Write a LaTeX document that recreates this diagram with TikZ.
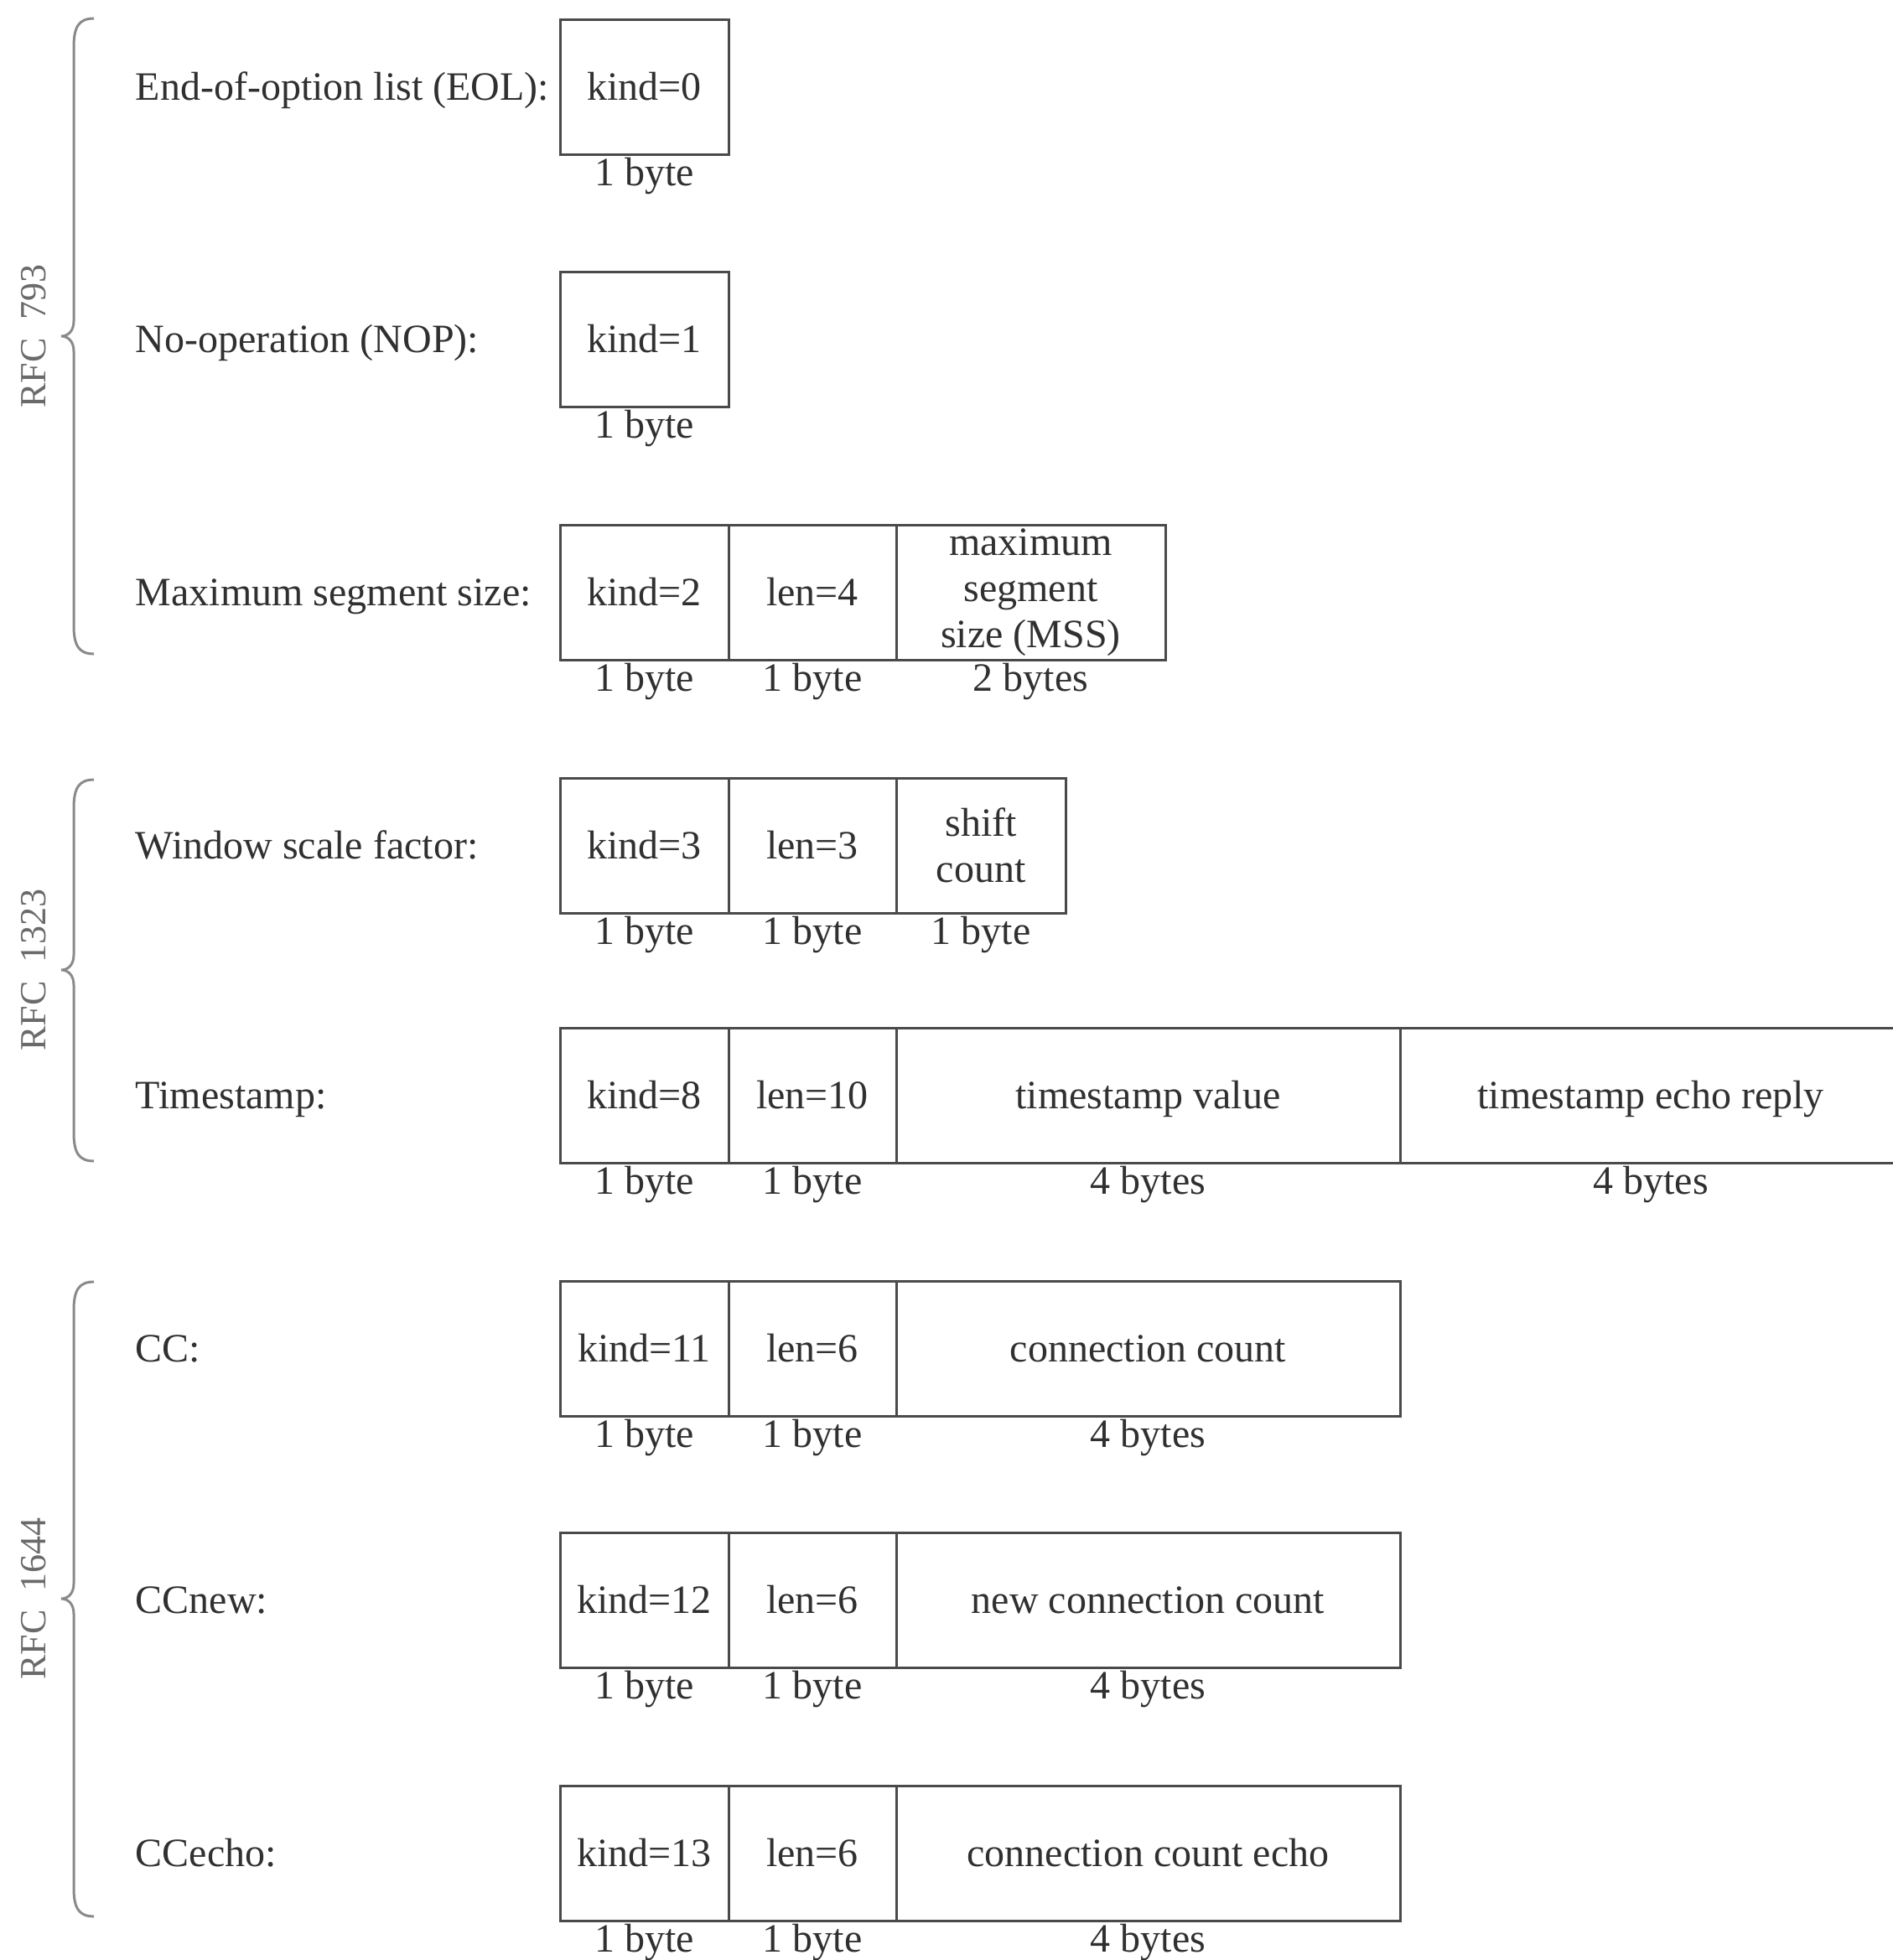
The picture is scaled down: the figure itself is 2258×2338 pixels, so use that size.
\documentclass[tikz,border=0pt]{standalone}
\usepackage{fontspec}
\setmainfont{Liberation Serif}
\definecolor{linec}{HTML}{4A4A4A}
\definecolor{txt}{HTML}{303030}
\definecolor{bracec}{HTML}{8A8A8A}
\definecolor{rfcc}{HTML}{6A6A6A}
\tikzset{
  cell/.style={draw=linec, line width=0.75pt, inner sep=0pt, text height=7.9pt, text depth=0pt, minimum height=40.25pt, text=txt},
  mcell/.style={draw=linec, line width=0.75pt, inner sep=0pt, align=center, minimum height=40.25pt, text=txt, font=\fontsize{12}{13.75}\selectfont},
  bytel/.style={anchor=base, text=txt, inner sep=0pt},
  rowl/.style={anchor=base west, inner sep=0pt, text=txt},
  rfc/.style={rotate=90, text=rfcc, font=\fontsize{11}{13}\selectfont, inner sep=0pt},
  brc/.style={draw=bracec, line width=0.75pt}
}
% name, x0, x1, top, text
\newcommand\fld[5]{\node[cell, minimum width={(#3-#2)*0.25pt}] (#1) at ({(#2+#3)/2},{#4+80.5}) {#5};}
\newcommand\mfld[5]{\node[mcell, minimum width={(#3-#2)*0.25pt}] (#1) at ({(#2+#3)/2},{#4+80.5}) {#5};}
\newcommand\byt[2]{\node[bytel] (#1b) at ([yshift=-9pt]#1.south) {#2};}
\newcommand\rfcbrace[3]{% top, bottom, mid
  \path[brc] (112,#1) .. controls (94,#1) and (88,#1+10) .. (88,#1+34)
    -- (88,#3-18) .. controls (88,#3-6) and (81,#3) .. (73,#3)
    .. controls (81,#3) and (88,#3+6) .. (88,#3+18)
    -- (88,#2-34) .. controls (88,#2-10) and (94,#2) .. (112,#2);}
\begin{document}
\begin{tikzpicture}[x=0.25pt, y=-0.25pt, font=\fontsize{12}{14}\selectfont]
\useasboundingbox (0,0) rectangle (2258,2338);
\fill[white] (0,0) rectangle (2258,2338);

% braces and RFC labels
\rfcbrace{22}{780}{401}
\rfcbrace{930}{1385}{1157}
\rfcbrace{1529}{2286}{1907}
\node[rfc] (rfc1) at (40,401) {RFC\ \ 793};
\node[rfc] (rfc2) at (40,1157) {RFC\ \ 1323};
\node[rfc] (rfc3) at (40,1907) {RFC\ \ 1644};

% row 0: EOL
\node[rowl] (n0) at (161,119.5) {End-of-option list (EOL):};
\fld{k0}{668}{869}{23}{kind=0}
\byt{k0}{1 byte}

% row 1: NOP
\node[rowl] (n1) at (161,420.5) {No-operation (NOP):};
\fld{k1}{668}{869}{324}{kind=1}
\byt{k1}{1 byte}

% row 2: MSS
\node[rowl] (n2) at (161,722.5) {Maximum segment size:};
\fld{k2}{668}{869}{626}{kind=2}
\fld{l2}{869}{1069}{626}{len=4}
\mfld{m2}{1069}{1390}{626}{maximum\\segment\\size (MSS)}
\byt{k2}{1 byte}
\byt{l2}{1 byte}
\byt{m2}{2 bytes}

% row 3: window scale
\node[rowl] (n3) at (161,1024.5) {Window scale factor:};
\fld{k3}{668}{869}{928}{kind=3}
\fld{l3}{869}{1069}{928}{len=3}
\mfld{s3}{1069}{1271}{928}{shift\\count}
\byt{k3}{1 byte}
\byt{l3}{1 byte}
\byt{s3}{1 byte}

% row 4: timestamp
\node[rowl] (n4) at (161,1322.5) {Timestamp:};
\fld{k4}{668}{869}{1226}{kind=8}
\fld{l4}{869}{1069}{1226}{len=10}
\fld{v4}{1069}{1670}{1226}{timestamp value}
\fld{e4}{1670}{2268}{1226}{timestamp echo reply}
\byt{k4}{1 byte}
\byt{l4}{1 byte}
\byt{v4}{4 bytes}
\byt{e4}{4 bytes}

% row 5: CC
\node[rowl] (n5) at (161,1624.5) {CC:};
\fld{k5}{668}{869}{1528}{kind=11}
\fld{l5}{869}{1069}{1528}{len=6}
\fld{c5}{1069}{1670}{1528}{connection count}
\byt{k5}{1 byte}
\byt{l5}{1 byte}
\byt{c5}{4 bytes}

% row 6: CCnew
\node[rowl] (n6) at (161,1924.5) {CCnew:};
\fld{k6}{668}{869}{1828}{kind=12}
\fld{l6}{869}{1069}{1828}{len=6}
\fld{c6}{1069}{1670}{1828}{new connection count}
\byt{k6}{1 byte}
\byt{l6}{1 byte}
\byt{c6}{4 bytes}

% row 7: CCecho
\node[rowl] (n7) at (161,2226.5) {CCecho:};
\fld{k7}{668}{869}{2130}{kind=13}
\fld{l7}{869}{1069}{2130}{len=6}
\fld{c7}{1069}{1670}{2130}{connection count echo}
\byt{k7}{1 byte}
\byt{l7}{1 byte}
\byt{c7}{4 bytes}
\end{tikzpicture}
\end{document}
